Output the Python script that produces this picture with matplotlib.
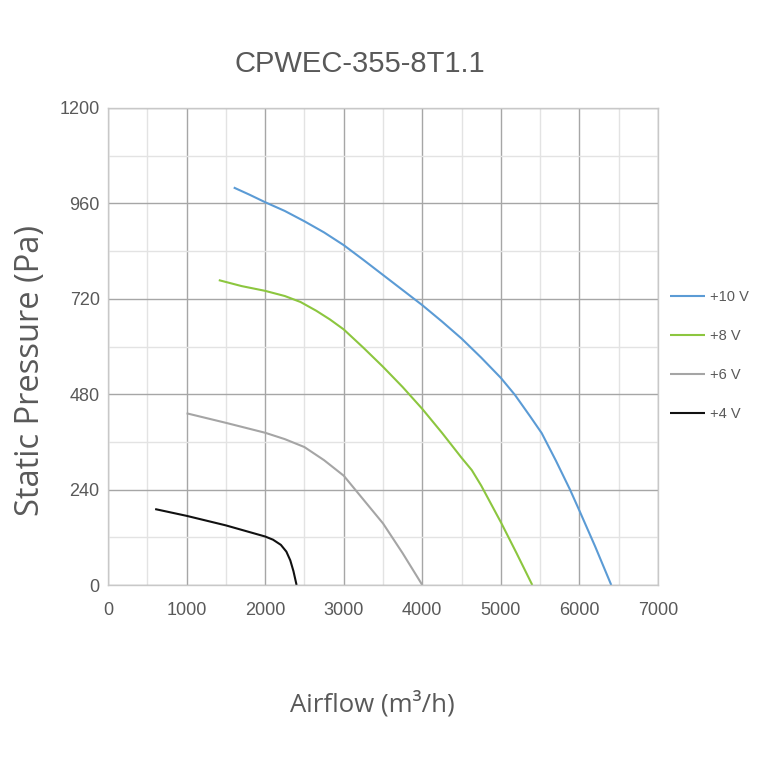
import matplotlib.pyplot as plt
from matplotlib.ticker import MultipleLocator

# values (airflow m3/h, static pressure Pa)
flow_10v = [1600, 1800, 2000, 2250, 2500, 2750, 3000, 3250, 3500, 3750, 4000, 4250,
            4500, 4750, 5000, 5180, 5370, 5520, 5700, 5880, 6000, 6200, 6405]
pres_10v = [1000, 982, 963, 941, 915, 887, 855, 818, 780, 742, 704, 663,
            620, 572, 521, 478, 425, 382, 313, 240, 187, 97, 0]

flow_8v = [1410, 1700, 2000, 2250, 2450, 2650, 2825, 3000, 3250, 3500, 3750, 4000,
           4250, 4500, 4630, 4750, 5000, 5200, 5400]
pres_8v = [767, 752, 740, 727, 712, 690, 668, 643, 597, 549, 498, 443,
           383, 320, 289, 250, 158, 80, 0]

flow_6v = [1000, 1500, 2000, 2250, 2500, 2750, 3000, 3250, 3500, 3750, 4000]
pres_6v = [432, 408, 383, 367, 347, 314, 275, 215, 155, 80, 0]

flow_4v = [600, 1000, 1500, 2000, 2100, 2200, 2270, 2320, 2360, 2400]
pres_4v = [191, 174, 150, 122, 114, 101, 84, 62, 35, 0]

series = [
    ("+10 V", flow_10v, pres_10v, "#5b9bd5"),
    ("+8 V", flow_8v, pres_8v, "#8cc63f"),
    ("+6 V", flow_6v, pres_6v, "#a5a5a5"),
    ("+4 V", flow_4v, pres_4v, "#111111"),
]

txt_color = "#595959"

fig = plt.figure(figsize=(7.6, 7.6), dpi=100)
ax = fig.add_axes([108 / 760, 1 - 585 / 760, 550 / 760, 477 / 760])

for label, x, y, c in series:
    ax.plot(x, y, color=c, lw=1.5, label=label, solid_capstyle="butt")

ax.set_xlim(0, 7000)
ax.set_ylim(0, 1200)
ax.xaxis.set_major_locator(MultipleLocator(1000))
ax.xaxis.set_minor_locator(MultipleLocator(500))
ax.yaxis.set_major_locator(MultipleLocator(240))
ax.yaxis.set_minor_locator(MultipleLocator(120))
ax.grid(which="major", color="#a6a6a6", lw=1.0)
ax.grid(which="minor", color="#e3e3e3", lw=1.0)
ax.set_axisbelow(True)
for s in ax.spines.values():
    s.set_color("#c8c8c8")
    s.set_linewidth(1.0)
ax.tick_params(which="both", length=0)
ax.tick_params(axis="x", pad=12)
ax.tick_params(axis="y", pad=6)
for t in ax.get_xticklabels() + ax.get_yticklabels():
    t.set_fontfamily("Liberation Sans")
    t.set_fontsize(13)
    t.set_color(txt_color)

fig.text(360 / 760, 1 - 64 / 760, "CPWEC-355-8T1.1", ha="center", va="center",
         fontsize=21, color=txt_color, family="Liberation Sans")
fig.text(372 / 760, 1 - 704 / 760, "Airflow (m³/h)", ha="center", va="center",
         fontsize=18.5, color=txt_color, family="Open Sans")
fig.text(31 / 760, 1 - 370 / 760, "Static Pressure (Pa)", ha="center", va="center",
         rotation=90, fontsize=23.5, color=txt_color, family="Open Sans")

leg = ax.legend(loc="upper left", bbox_to_anchor=(670 / 760, 1 - 290 / 760),
                bbox_transform=fig.transFigure, frameon=False,
                borderpad=0, borderaxespad=0,
                handlelength=2.4, handletextpad=0.35, labelspacing=1.72,
                prop={"family": "Liberation Sans", "size": 10.5})
for t in leg.get_texts():
    t.set_color(txt_color)

fig.savefig("out.png", dpi=100)
